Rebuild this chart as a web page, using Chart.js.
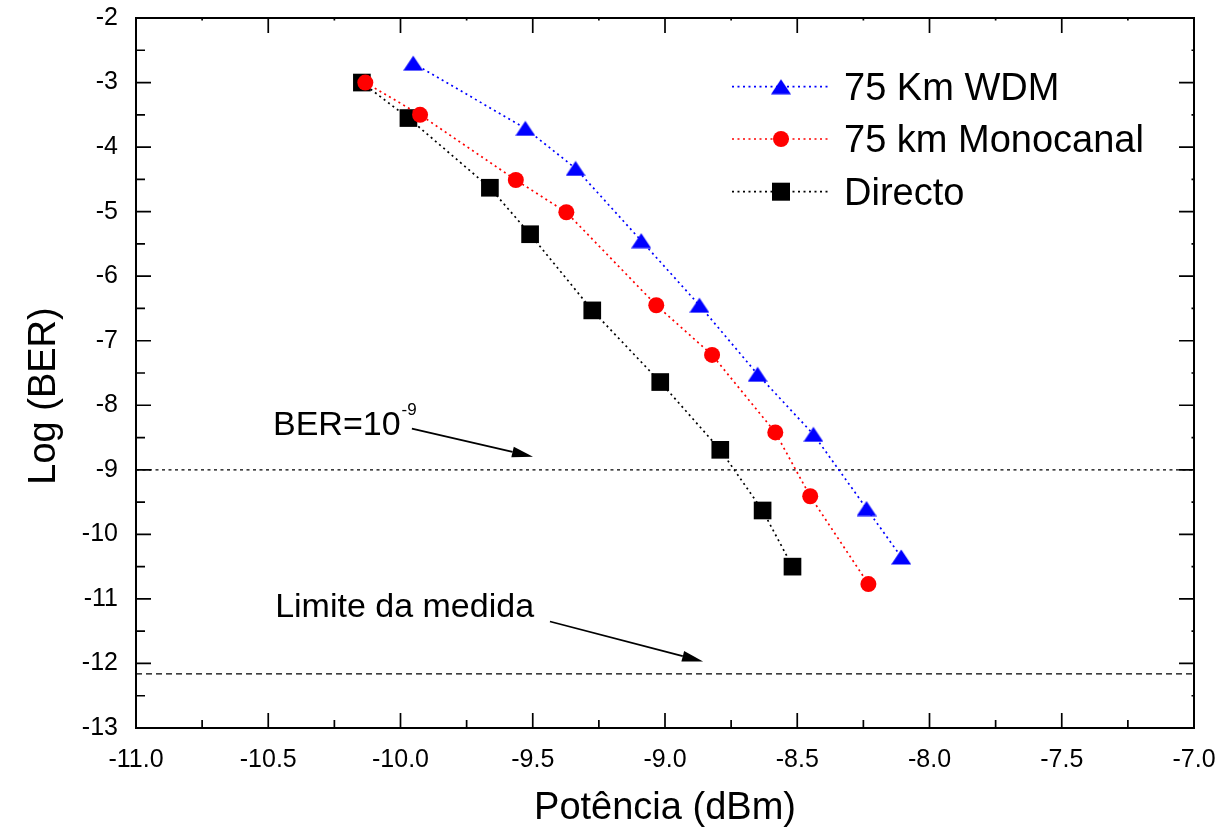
<!DOCTYPE html>
<html><head><meta charset="utf-8">
<script src="https://cdn.jsdelivr.net/npm/chart.js@4.4.1/dist/chart.umd.min.js"></script>
<style>html,body{margin:0;padding:0;background:#fff;}canvas{display:block;}</style>
</head><body>
<canvas id="c" width="1220" height="836"></canvas>
<script>
// ---- data ----
const seriesNames = ['75 Km WDM', '75 km Monocanal', 'Directo'];
const wdmX  = [-9.952, -9.528, -9.338, -9.090, -8.870, -8.650, -8.439, -8.238, -8.107];
const wdmY  = [-2.70, -3.71, -4.33, -5.45, -6.45, -7.52, -8.45, -9.60, -10.35];
const monoX = [-10.133, -9.926, -9.564, -9.373, -9.033, -8.822, -8.583, -8.451, -8.231];
const monoY = [-3.00, -3.50, -4.51, -5.01, -6.45, -7.22, -8.42, -9.41, -10.77];
const dirX  = [-10.146, -9.970, -9.662, -9.510, -9.275, -9.018, -8.791, -8.631, -8.518];
const dirY  = [-3.00, -3.55, -4.63, -5.35, -6.53, -7.64, -8.69, -9.63, -10.50];
const refX = [-11, -7];
const berLineY = -9;
const limitLineY = -12.16;
const xTicks = [-11.0, -10.5, -10.0, -9.5, -9.0, -8.5, -8.0, -7.5, -7.0];
const yTicks = [-13, -12, -11, -10, -9, -8, -7, -6, -5, -4, -3, -2];
const xTitle = 'Potência (dBm)';
const yTitle = 'Log (BER)';
const berLabel = { text: 'BER=10', sup: '-9', x: -10.482, y: -8.455 };
const berArrow = { x1: -9.957, y1: -8.363, x2: -9.499, y2: -8.797 };
const limitLabel = { text: 'Limite da medida', x: -10.474, y: -11.275 };
const limitArrow = { x1: -9.435, y1: -11.35, x2: -8.856, y2: -11.97 };

const FONT = '"Liberation Sans", Arial, Helvetica, sans-serif';
const zip = (xs, ys) => xs.map((x, i) => ({ x: x, y: ys[i] }));

function triCanvas(color) {
  const c = document.createElement('canvas');
  c.width = 20; c.height = 16;
  const g = c.getContext('2d');
  g.fillStyle = color;
  g.beginPath(); g.moveTo(10, 0.5); g.lineTo(20, 15.5); g.lineTo(0, 15.5); g.closePath(); g.fill();
  return c;
}
const triBlue = triCanvas('#0000ff');

const lineDash = [2, 3.5];
const datasets = [
  { label: seriesNames[0], data: zip(wdmX, wdmY), showLine: true, borderColor: '#0000ff', backgroundColor: '#0000ff',
    borderWidth: 1.7, borderDash: lineDash, pointStyle: triBlue, pointRadius: 10 },
  { label: seriesNames[1], data: zip(monoX, monoY), showLine: true, borderColor: '#ff0000', backgroundColor: '#ff0000',
    borderWidth: 1.7, borderDash: lineDash, pointStyle: 'circle', pointRadius: 8, pointBorderWidth: 0 },
  { label: seriesNames[2], data: zip(dirX, dirY), showLine: true, borderColor: '#000000', backgroundColor: '#000000',
    borderWidth: 1.7, borderDash: lineDash, pointStyle: 'rect', pointRadius: 12.5, pointBorderWidth: 0 },
  { label: 'ber', data: zip(refX, [berLineY, berLineY]), showLine: true, borderColor: '#000', borderWidth: 1.3,
    borderDash: [3, 3.5], pointRadius: 0 },
  { label: 'limit', data: zip(refX, [limitLineY, limitLineY]), showLine: true, borderColor: '#000', borderWidth: 1.3,
    borderDash: [6, 4], pointRadius: 0 }
];

function arrow(ctx, x1, y1, x2, y2) {
  const ang = Math.atan2(y2 - y1, x2 - x1);
  const L = 21, W = 5.5;
  const bx = x2 - L * Math.cos(ang), by = y2 - L * Math.sin(ang);
  ctx.beginPath(); ctx.moveTo(x1, y1); ctx.lineTo(bx, by); ctx.stroke();
  ctx.beginPath();
  ctx.moveTo(x2, y2);
  ctx.lineTo(bx + W * Math.sin(ang), by - W * Math.cos(ang));
  ctx.lineTo(bx - W * Math.sin(ang), by + W * Math.cos(ang));
  ctx.closePath(); ctx.fill();
}

const decor = {
  id: 'decor',
  afterDraw(chart) {
    const ctx = chart.ctx, a = chart.chartArea;
    const xs = chart.scales.x, ys = chart.scales.y;
    ctx.save();
    ctx.strokeStyle = '#000'; ctx.fillStyle = '#000'; ctx.setLineDash([]);
    // frame
    ctx.lineWidth = 2;
    ctx.strokeRect(a.left, a.top, a.right - a.left, a.bottom - a.top);
    // ticks
    ctx.lineWidth = 1.7;
    ctx.beginPath();
    xTicks.forEach((v, i) => {
      const px = xs.getPixelForValue(v);
      ctx.moveTo(px, a.bottom); ctx.lineTo(px, a.bottom - 15);
      ctx.moveTo(px, a.top); ctx.lineTo(px, a.top + 15);
      if (i < xTicks.length - 1) {
        const mx = xs.getPixelForValue((v + xTicks[i + 1]) / 2);
        ctx.moveTo(mx, a.bottom); ctx.lineTo(mx, a.bottom - 8);
        ctx.moveTo(mx, a.top); ctx.lineTo(mx, a.top + 2.5);
      }
    });
    yTicks.forEach((v, i) => {
      const py = ys.getPixelForValue(v);
      ctx.moveTo(a.left, py); ctx.lineTo(a.left + 15, py);
      ctx.moveTo(a.right, py); ctx.lineTo(a.right - 15, py);
      if (i < yTicks.length - 1) {
        const my = ys.getPixelForValue((v + yTicks[i + 1]) / 2);
        ctx.moveTo(a.left, my); ctx.lineTo(a.left + 9, my);
        ctx.moveTo(a.right, my); ctx.lineTo(a.right - 2.5, my);
      }
    });
    ctx.stroke();

    // axis titles
    ctx.font = '38px ' + FONT;
    ctx.textAlign = 'center'; ctx.textBaseline = 'alphabetic';
    ctx.fillText(xTitle, (a.left + a.right) / 2, 819);
    ctx.save();
    ctx.translate(55, 396); ctx.rotate(-Math.PI / 2);
    ctx.fillText(yTitle, 0, 0);
    ctx.restore();

    // legend
    const rows = [86.7, 139, 191.7];
    const colors = ['#0000ff', '#ff0000', '#000000'];
    ctx.textAlign = 'left';
    ctx.font = '38px ' + FONT;
    rows.forEach((ry, i) => {
      ctx.strokeStyle = colors[i]; ctx.fillStyle = colors[i];
      ctx.lineWidth = 1.7; ctx.setLineDash(lineDash);
      ctx.beginPath(); ctx.moveTo(732, ry); ctx.lineTo(830, ry); ctx.stroke();
      ctx.setLineDash([]);
      if (i === 0) ctx.drawImage(triBlue, 781 - 10, ry - 8);
      else if (i === 1) { ctx.beginPath(); ctx.arc(781, ry, 8, 0, Math.PI * 2); ctx.fill(); }
      else ctx.fillRect(781 - 9, ry - 9, 18, 18);
      ctx.fillStyle = '#000';
      ctx.fillText(seriesNames[i], 844, ry + 13);
    });

    // annotations
    ctx.fillStyle = '#000'; ctx.strokeStyle = '#000'; ctx.lineWidth = 1.8;
    ctx.font = '34px ' + FONT;
    const bx = xs.getPixelForValue(berLabel.x), by = ys.getPixelForValue(berLabel.y);
    ctx.fillText(berLabel.text, bx, by);
    const w = ctx.measureText(berLabel.text).width;
    ctx.font = '17px ' + FONT;
    ctx.fillText(berLabel.sup, bx + w + 1, by - 20);
    ctx.font = '34px ' + FONT;
    ctx.fillText(limitLabel.text, xs.getPixelForValue(limitLabel.x), ys.getPixelForValue(limitLabel.y));
    [berArrow, limitArrow].forEach(r => arrow(ctx,
      xs.getPixelForValue(r.x1), ys.getPixelForValue(r.y1),
      xs.getPixelForValue(r.x2), ys.getPixelForValue(r.y2)));
    ctx.restore();
  }
};

function noPad(s) { s.paddingTop = 0; s.paddingBottom = 0; s.paddingLeft = 0; s.paddingRight = 0; }

Chart.defaults.font.family = FONT;
Chart.defaults.color = '#000';
new Chart(document.getElementById('c'), {
  type: 'scatter',
  data: { datasets: datasets },
  options: {
    responsive: false, animation: false, devicePixelRatio: 1,
    layout: { padding: { top: 18, right: 26, left: 0, bottom: 0 } },
    plugins: { legend: { display: false }, tooltip: { enabled: false } },
    scales: {
      x: {
        type: 'linear', min: -11, max: -7,
        afterFit: s => { s.height = 108; noPad(s); },
        afterBuildTicks: s => { s.ticks = xTicks.map(v => ({ value: v })); },
        grid: { display: false, drawTicks: false }, border: { display: false },
        ticks: { font: { size: 25 }, padding: 17, maxRotation: 0, autoSkip: false,
          callback: v => v.toFixed(1) }
      },
      y: {
        type: 'linear', min: -13, max: -2,
        afterFit: s => { s.width = 136; noPad(s); },
        afterBuildTicks: s => { s.ticks = yTicks.map(v => ({ value: v })); },
        grid: { display: false, drawTicks: false }, border: { display: false },
        ticks: { font: { size: 25 }, padding: 18, autoSkip: false, callback: v => String(v) }
      }
    }
  },
  plugins: [decor]
});
</script>
</body></html>
